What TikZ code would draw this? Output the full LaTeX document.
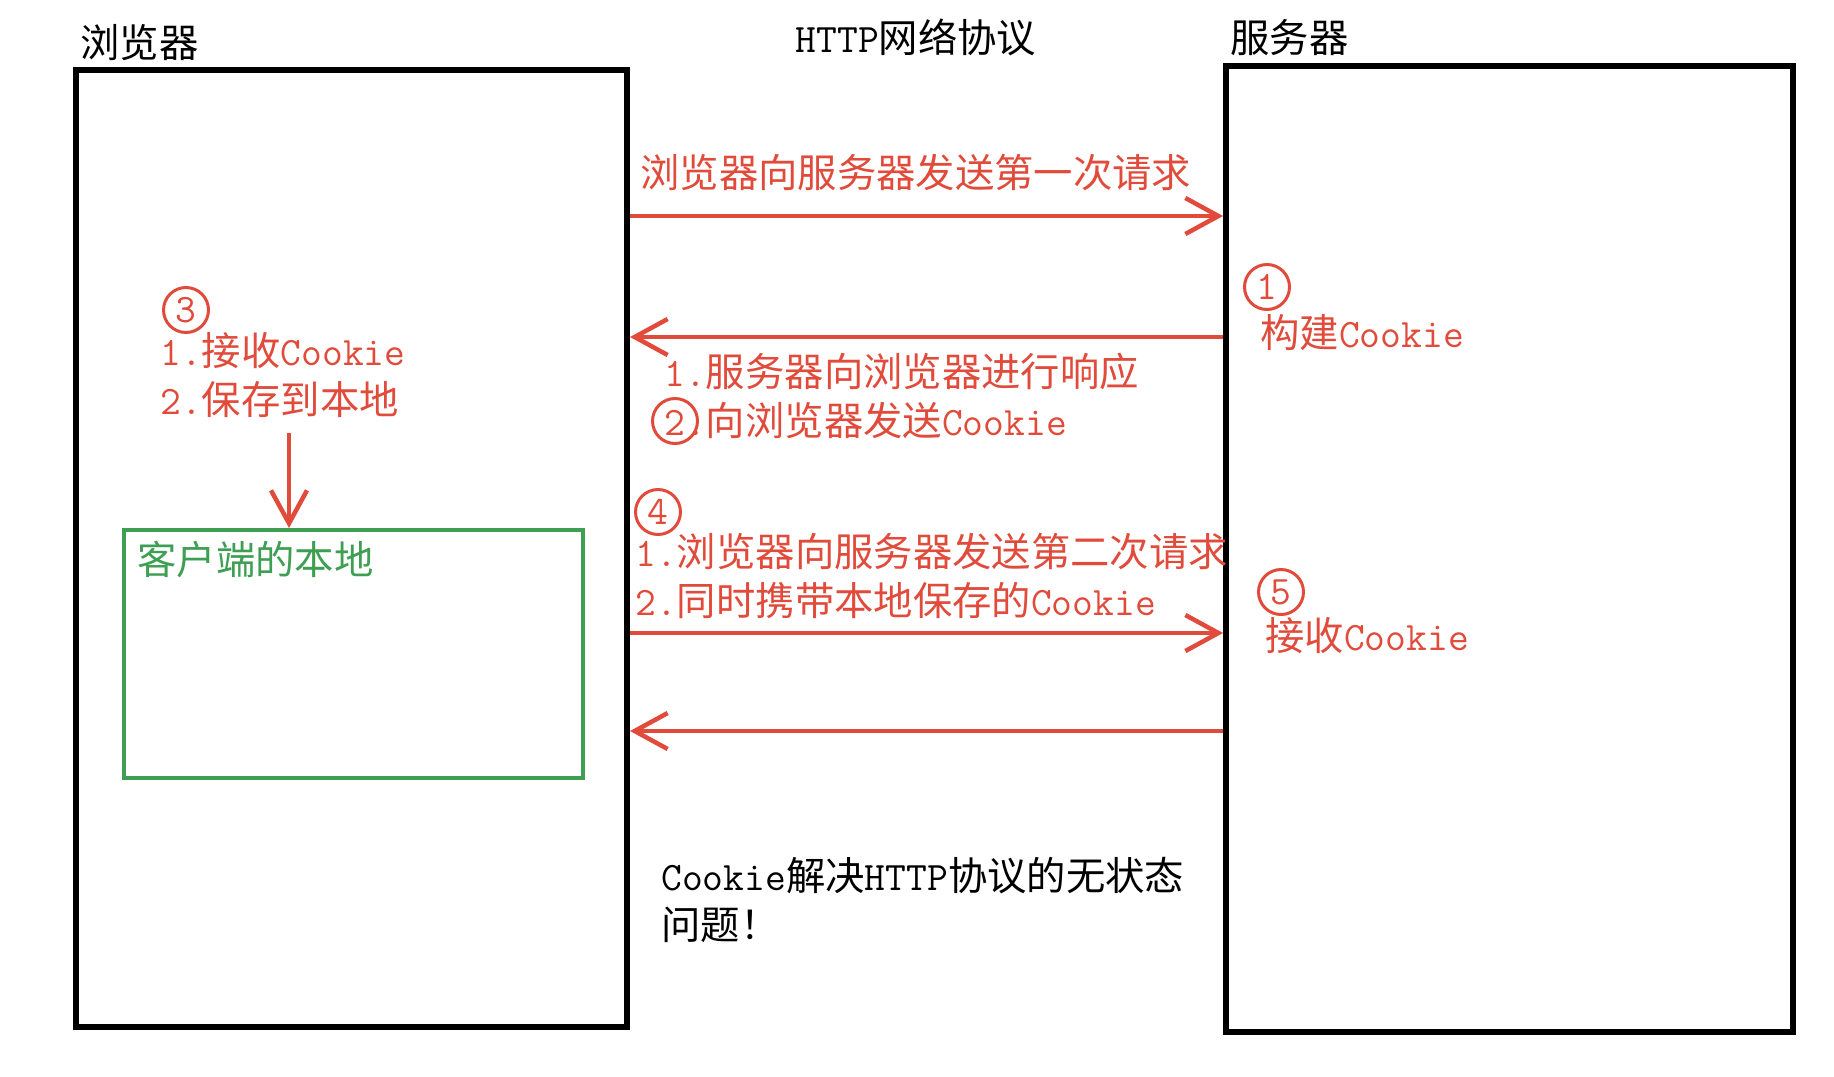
\documentclass[tikz,border=0pt]{standalone}
\usepackage{fontspec}
\setmainfont{Noto Sans CJK SC}
\usetikzlibrary{positioning, arrows.meta, calc}
\definecolor{cRed}{HTML}{E04B3B}
\definecolor{cGreen}{HTML}{3E9E52}
\newcommand{\entext}[1]{{\ttfamily\fontsize{23pt}{28pt}\selectfont #1}}
\tikzset{
  sidebox/.style={
    draw=black, line width=0.12cm, inner sep=0pt
  },
  storebox/.style={
    draw=cGreen, line width=0.08cm, inner sep=0pt
  },
  titletext/.style={
    font=\fontsize{22.4pt}{28pt}\selectfont, text=black, inner sep=0pt
  },
  steptext/.style={
    font=\fontsize{22.4pt}{28pt}\selectfont, text=#1, inner sep=0pt,
    align=left, anchor=west
  },
  steptext/.default=cRed,
  numcirc/.style={
    circle, draw=cRed, line width=0.06cm, minimum size=0.9cm, inner sep=0pt,
    font=\ttfamily\fontsize{23pt}{24pt}\selectfont, text=cRed
  },
  msgarrow/.style={
    -{Straight Barb[length=0.66cm, width=0.72cm]}, line width=0.09cm,
    color=cRed
  },
}

\begin{document}
\begin{tikzpicture}[x=0.02cm, y=-0.02cm]
\useasboundingbox (0,0) rectangle (1834,1076);

% ---- Browser side ----
\node[sidebox, minimum width=11.02cm, minimum height=19.14cm]
  (browser) at (351.5,548.5) {};
\node[titletext, anchor=west] (browserlbl) at (80,43) {浏览器};

\node[storebox, minimum width=9.18cm, minimum height=4.96cm]
  (localstore) at (353.5,654) {};
\node[steptext=cGreen] (localstorelbl) at (137,559) {客户端的本地};

% ---- Server side ----
\node[sidebox, minimum width=11.34cm, minimum height=19.32cm]
  (server) at (1509.5,549) {};
\node[titletext, anchor=west] (serverlbl) at (1230,38) {服务器};

% ---- Protocol ----
\node[titletext] (httplbl) at (916,37) {\entext{HTTP}网络协议};

% ---- Step labels ----
\node[steptext] (firstreq) at (640,173) {浏览器向服务器发送第一次请求};

\node[numcirc] (n1) at (1267,287) {1};
\node[steptext] (buildlbl) at (1260,333) {构建\entext{Cookie}};

\node[steptext] (resplbl) at (664,396)
  {\entext{1.}服务器向浏览器进行响应\\\entext{2.}向浏览器发送\entext{Cookie}};
\node[numcirc] (n2) at (675,421) {};

\node[numcirc] (n3) at (186,310) {3};
\node[steptext] (keeplbl) at (160,375)
  {\entext{1.}接收\entext{Cookie}\\\entext{2.}保存到本地};
\coordinate (keepdown) at (289,433);

\node[numcirc] (n4) at (658,512) {4};
\node[steptext] (secondreq) at (635,576)
  {\entext{1.}浏览器向服务器发送第二次请求\\\entext{2.}同时携带本地保存的\entext{Cookie}};

\node[numcirc] (n5) at (1281,592) {5};
\node[steptext] (recvlbl) at (1265,636) {接收\entext{Cookie}};

\node[steptext=black] (note) at (661,900)
  {\entext{Cookie}解决\entext{HTTP}协议的无状态\\问题！};

% ---- Arrows ----
% first request
\draw[msgarrow] (browser.east |- 0,216) -- (server.west |- 0,216);
% response with cookie
\draw[msgarrow] (server.west |- 0,337) -- (browser.east |- 0,337);
% store locally
\draw[msgarrow] (keepdown) -- (keepdown |- localstore.north);
% second request
\draw[msgarrow] (browser.east |- 0,633) -- (server.west |- 0,633);
% second response
\draw[msgarrow] (server.west |- 0,731) -- (browser.east |- 0,731);

\end{tikzpicture}
\end{document}
